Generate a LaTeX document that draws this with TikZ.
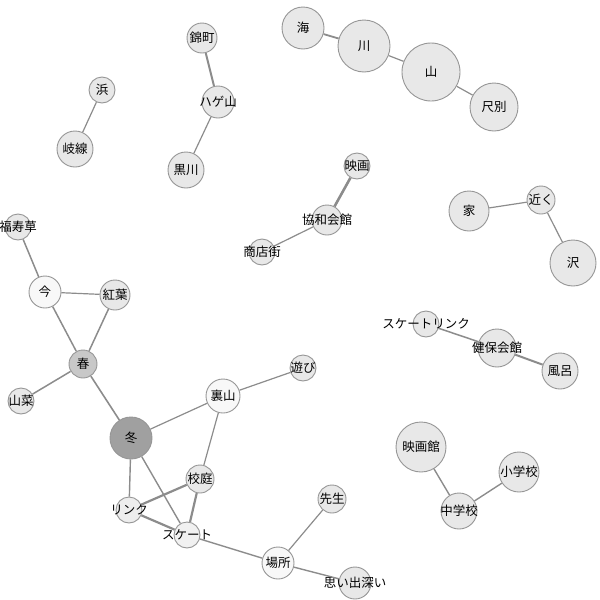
\documentclass[tikz,border=0pt]{standalone}
\usepackage{fontspec}
\setmainfont{Noto Sans CJK JP}
\usepackage{tikz}
\usetikzlibrary{positioning}
\definecolor{grisBorde}{RGB}{150, 150, 150}
\definecolor{grisArista}{RGB}{140, 140, 140}
\definecolor{grisClaro}{RGB}{232, 232, 232}
\definecolor{grisMedio}{RGB}{200, 200, 200}
\definecolor{grisOscuro}{RGB}{160, 160, 160}
\definecolor{casiBlanco}{RGB}{248, 248, 248}
\newcommand{\etq}[1]{\makebox[0pt]{#1}}

\begin{document}
\begin{tikzpicture}[x=1pt, y=-1pt,
            nodo/.style={circle, draw=grisBorde, fill=grisClaro, line width=0.9pt, inner sep=0pt, minimum size=#1, font=\fontsize{12.5}{13}\selectfont},
            nodo/.default=26pt,
            arista/.style={grisArista, line width=1.2pt},
            gruesa/.style={grisArista, line width=2.2pt}]

            \useasboundingbox (0,0) rectangle (600,600);

            % grupo del mar
            \node[nodo=42pt] (umi) at (303,28) {\etq{海}};
            \node[nodo=52pt] (kawa) at (364,46) {\etq{川}};
            \node[nodo=58pt] (yama) at (431,72) {\etq{山}};
            \node[nodo=48pt] (shakubetsu) at (494,107) {\etq{尺別}};

            \node[nodo] (eiga) at (357,166) {\etq{映画}};
            \node[nodo=30pt] (kyowa) at (327,220) {\etq{協和会館}};
            \node[nodo] (shotengai) at (262,252) {\etq{商店街}};

            \node[nodo=40pt] (ie) at (469,211) {\etq{家}};
            \node[nodo=28pt] (chikaku) at (541,200) {\etq{近く}};
            \node[nodo=46pt] (sawa) at (573,263) {\etq{沢}};

            \node[nodo=30pt] (nishiki) at (202,38) {\etq{錦町}};
            \node[nodo=32pt] (hageyama) at (218,102) {\etq{ハゲ山}};
            \node[nodo=36pt] (kurokawa) at (186,170) {\etq{黒川}};

            \node[nodo] (hama) at (102,90) {\etq{浜}};
            \node[nodo=36pt] (kisen) at (75,149) {\etq{岐線}};

            % grupo de las estaciones
            \node[nodo] (fukujuso) at (18,227) {\etq{福寿草}};
            \node[nodo=32pt, fill=casiBlanco] (ima) at (45,292) {\etq{今}};
            \node[nodo=30pt] (momiji) at (115,295) {\etq{紅葉}};
            \node[nodo=28pt, fill=grisMedio] (haru) at (83,364) {\etq{春}};
            \node[nodo] (sansai) at (21,401) {\etq{山菜}};
            \node[nodo=42pt, fill=grisOscuro] (fuyu) at (131,438) {\etq{冬}};
            \node[nodo=34pt, fill=casiBlanco] (urayama) at (223,396) {\etq{裏山}};
            \node[nodo] (asobi) at (303,368) {\etq{遊び}};
            \node[nodo=28pt] (kotei) at (200,479) {\etq{校庭}};
            \node[nodo, fill=grisClaro!80!white] (rinku) at (129,510) {\etq{リンク}};
            \node[nodo, fill=grisClaro!60!white] (suketo) at (187,535) {\etq{スケート}};
            \node[nodo=32pt, fill=casiBlanco] (basho) at (278,563) {\etq{場所}};
            \node[nodo=28pt] (sensei) at (332,499) {\etq{先生}};
            \node[nodo=32pt] (omoide) at (355,583) {\etq{思い出深い}};

            \node[nodo] (rinkuz) at (426,324) {\etq{スケートリンク}};
            \node[nodo=38pt] (kenpo) at (497,348) {\etq{健保会館}};
            \node[nodo=36pt] (furo) at (560,371) {\etq{風呂}};

            \node[nodo=50pt] (eigakan) at (421,447) {\etq{映画館}};
            \node[nodo=40pt] (shogakko) at (519,472) {\etq{小学校}};
            \node[nodo=36pt] (chugakko) at (459,511) {\etq{中学校}};

            \draw[arista, line width=1.8pt] (umi) -- (kawa);
            \draw[arista] (kawa) -- (yama);
            \draw[arista] (yama) -- (shakubetsu);
            \draw[gruesa, line width=2.6pt] (eiga) -- (kyowa);
            \draw[arista] (kyowa) -- (shotengai);
            \draw[arista] (ie) -- (chikaku);
            \draw[arista] (chikaku) -- (sawa);
            \draw[gruesa, line width=2pt] (nishiki) -- (hageyama);
            \draw[arista] (hageyama) -- (kurokawa);
            \draw[arista] (hama) -- (kisen);

            \draw[arista, line width=1.5pt] (fukujuso) -- (ima);
            \draw[arista] (ima) -- (momiji);
            \draw[arista, line width=1.5pt] (ima) -- (haru);
            \draw[arista, line width=1.5pt] (momiji) -- (haru);
            \draw[arista, line width=1.5pt] (haru) -- (sansai);
            \draw[arista, line width=1.6pt] (haru) -- (fuyu);
            \draw[arista] (fuyu) -- (urayama);
            \draw[arista, line width=1.4pt] (fuyu) -- (rinku);
            \draw[arista, line width=1.4pt] (fuyu) -- (suketo);
            \draw[arista] (urayama) -- (asobi);
            \draw[arista] (urayama) -- (kotei);
            \draw[gruesa] (kotei) -- (rinku);
            \draw[gruesa] (kotei) -- (suketo);
            \draw[gruesa] (rinku) -- (suketo);
            \draw[arista, line width=1.4pt] (suketo) -- (basho);
            \draw[arista] (basho) -- (sensei);
            \draw[arista, line width=1.4pt] (basho) -- (omoide);

            \draw[arista, line width=1.5pt] (rinkuz) -- (kenpo);
            \draw[gruesa, line width=2pt] (kenpo) -- (furo);
            \draw[arista, line width=1.4pt] (eigakan) -- (chugakko);
            \draw[arista, line width=1.4pt] (chugakko) -- (shogakko);
        \end{tikzpicture}
\end{document}
